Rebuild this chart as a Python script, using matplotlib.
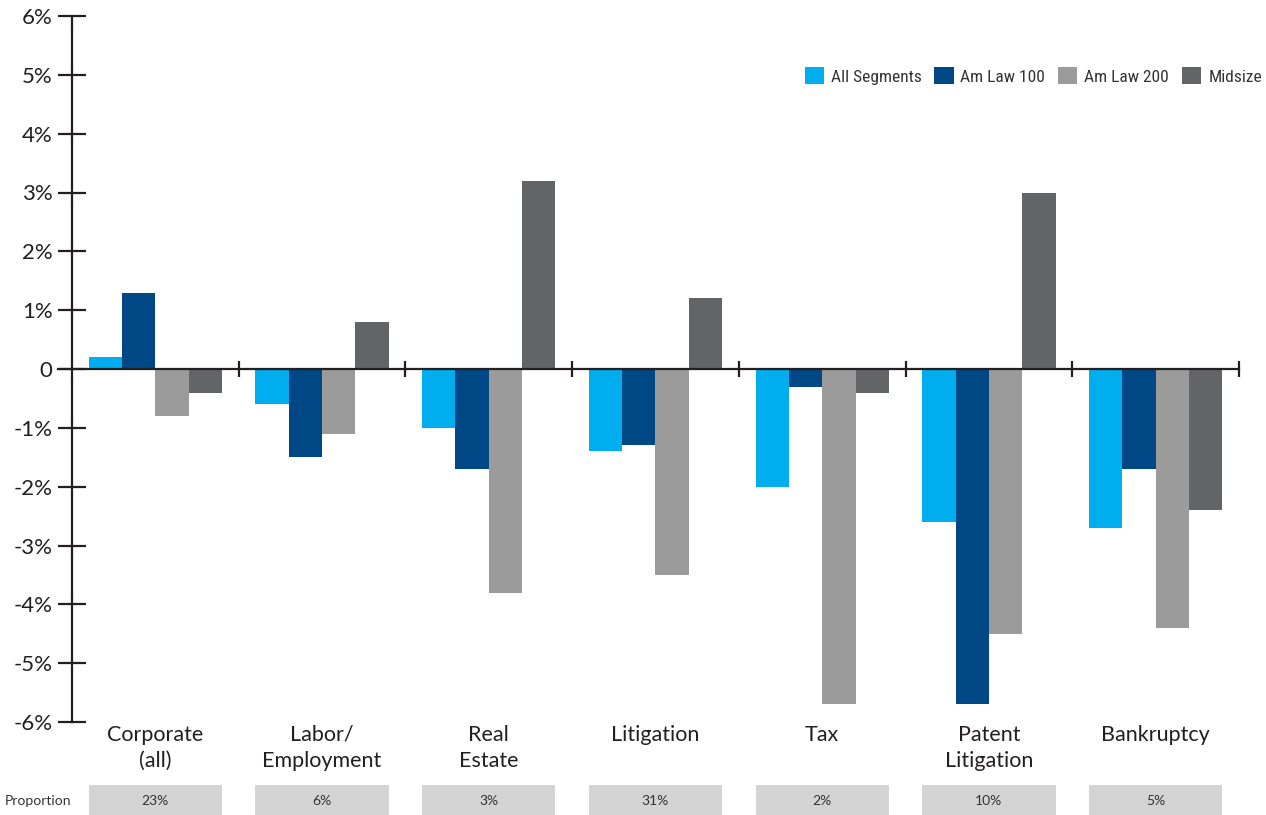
import matplotlib

matplotlib.use("Agg")
import matplotlib.pyplot as plt
from matplotlib.patches import Rectangle
from matplotlib.transforms import blended_transform_factory

# values in percent
categories = ["Corporate\n(all)", "Labor/\nEmployment", "Real\nEstate", "Litigation",
              "Tax", "Patent\nLitigation", "Bankruptcy"]
series = ["All Segments", "Am Law 100", "Am Law 200", "Midsize"]
all_segments = [0.2, -0.6, -1.0, -1.4, -2.0, -2.6, -2.7]
am_law_100 = [1.3, -1.5, -1.7, -1.3, -0.3, -5.7, -1.7]
am_law_200 = [-0.8, -1.1, -3.8, -3.5, -5.7, -4.5, -4.4]
midsize = [-0.4, 0.8, 3.2, 1.2, -0.4, 3.0, -2.4]
proportion = ["23%", "6%", "3%", "31%", "2%", "10%", "5%"]
yticks = [-6, -5, -4, -3, -2, -1, 0, 1, 2, 3, 4, 5, 6]
ytick_labels = ["-6%", "-5%", "-4%", "-3%", "-2%", "-1%", "0", "1%", "2%", "3%", "4%", "5%", "6%"]

colors = ["#00aeef", "#004785", "#9b9b9c", "#636466"]
ink = "#231f20"
plt.rcParams["font.family"] = ["Lato", "DejaVu Sans"]

fig = plt.figure(figsize=(12.66, 8.15), dpi=100)
ax = fig.add_axes([72 / 1266, 93 / 815, 1167 / 1266, 706 / 815])

n = len(categories)
width = 0.2
for j, (name, vals) in enumerate(zip(series, [all_segments, am_law_100, am_law_200, midsize])):
    xs = [i + 0.1 + width * j for i in range(n)]
    ax.bar(xs, vals, width=width, align="edge", color=colors[j], label=name, zorder=2)

ax.set_xlim(0, n)
ax.set_ylim(-6, 6)

# zero line with category separators
ax.plot([-0.085, n], [0, 0], color=ink, lw=1.6, clip_on=False, zorder=3)
ax.vlines(range(1, n + 1), -0.14, 0.14, color=ink, lw=1.6, clip_on=False, zorder=3)

for s in ["top", "right", "bottom"]:
    ax.spines[s].set_visible(False)
ax.spines["left"].set_color(ink)
ax.spines["left"].set_linewidth(1.6)

ax.set_yticks(yticks)
ax.set_yticklabels(ytick_labels)
ax.tick_params(axis="y", direction="inout", length=20, width=1.6, color=ink,
               labelsize=16, labelcolor=ink, pad=4)
ax.set_xticks([i + 0.5 for i in range(n)])
ax.set_xticklabels(categories, fontsize=15.5, color=ink, linespacing=1.4)
ax.tick_params(axis="x", length=0, pad=2)

# proportion row
trans = blended_transform_factory(ax.transData, fig.transFigure)
for i, p in enumerate(proportion):
    ax.add_patch(Rectangle((i + 0.1, 0), 0.8, 30 / 815, transform=trans,
                           facecolor="#d5d4d5", edgecolor="none", clip_on=False))
    ax.text(i + 0.5, 14 / 815, p, transform=trans, ha="center", va="center",
            fontsize=10, color="#333333")
fig.text(5 / 1266, 14 / 815, "Proportion", ha="left", va="center", fontsize=10, color="#333333")

ax.legend(loc="center right", bbox_to_anchor=(1262 / 1266, 1 - 76 / 815),
          bbox_transform=fig.transFigure, ncol=4, frameon=False,
          handlelength=1.1, handleheight=1.1, handletextpad=0.4, columnspacing=0.75,
          prop={"family": ["Roboto Condensed", "Roboto"], "size": 12.5},
          labelcolor="#333333", borderaxespad=0, borderpad=0)

fig.savefig("out.png", dpi=100)
